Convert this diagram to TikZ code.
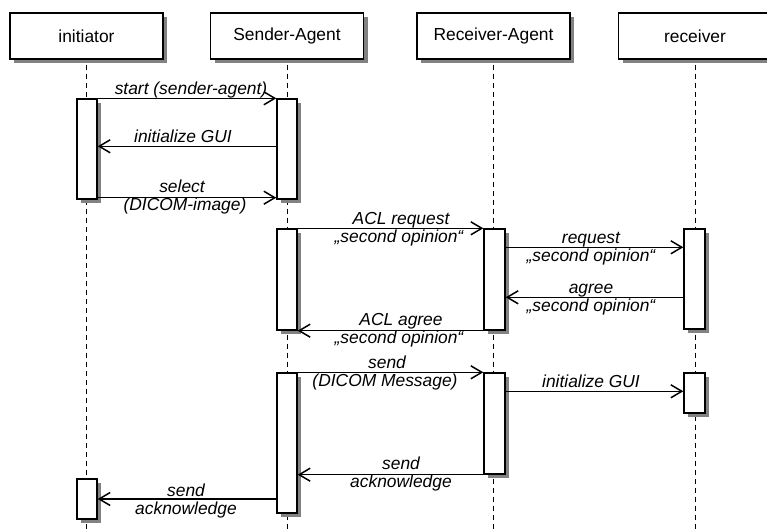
\documentclass[tikz,border=0pt]{standalone}
\usepackage{fontspec}
\setmainfont{Liberation Sans}
\usetikzlibrary{arrows.meta,shadows}
\definecolor{shadowgray}{RGB}{130,130,130}
\begin{document}
\begin{tikzpicture}[x=1pt,y=-1pt,
  every node/.style={font=\fontsize{17.4}{20}\selectfont},
  shad/.style={general shadow={fill=shadowgray, shadow xshift=4pt, shadow yshift=-4pt}},
  head/.style={draw, line width=1.4pt, fill=white, minimum width=153pt, minimum height=46pt, inner sep=0pt, shad},
  act/.style={draw, line width=1.4pt, fill=white, minimum width=20pt, inner sep=0pt, shad},
  life/.style={line width=1pt, dash pattern=on 5pt off 4pt},
  msg/.style={line width=1.5pt, -{Straight Barb[length=11pt,width=13pt,line width=1.5pt]}},
  lbl/.style={font=\fontsize{17.4}{20}\selectfont\itshape, inner sep=1pt, text height=12.5pt, text depth=3.5pt},
]
\useasboundingbox (0,0) rectangle (767,529);
\clip (0,0) rectangle (767,529);

% headers
\node[head] (hi) at (86.5,36) {initiator};
\node[head] (hs) at (287,36) {Sender-Agent};
\node[head] (hr) at (493.5,36) {Receiver-Agent};
\node[head] (hv) at (695,36) {receiver};

% lifelines
\coordinate (ei) at (87,529);
\coordinate (es) at (287,529);
\coordinate (er) at (494.5,529);
\coordinate (ev) at (695,529);
\draw[life] ([yshift=-5pt]hi.south) -- (hi.south |- ei);
\draw[life] ([yshift=-5pt]hs.south) -- (hs.south |- es);
\draw[life] ([yshift=-5pt]hr.south) -- (hr.south |- er);
\draw[life] ([yshift=-5pt]hv.south) -- (hv.south |- ev);

% activation boxes
\node[act, minimum height=100pt] (i1) at (87,149) {};
\node[act, minimum height=100pt] (s1) at (287,149) {};
\node[act, minimum height=101pt] (s2) at (287,279.5) {};
\node[act, minimum height=101pt, minimum width=21pt] (ra1) at (494.5,279.5) {};
\node[act, minimum height=100pt, minimum width=21pt] (r1) at (694.5,279) {};
\node[act, minimum height=140pt] (s3) at (287,443) {};
\node[act, minimum height=101pt, minimum width=21pt] (ra2) at (494.5,423.5) {};
\node[act, minimum height=40pt, minimum width=21pt] (r2) at (694.5,393) {};
\node[act, minimum height=40pt] (i2) at (87,499) {};

% messages
\draw[msg] (i1.north) -- (s1.north west);
\draw[msg] ([yshift=-48pt]s1.north west) -- ([yshift=-48pt]i1.north east);
\draw[msg] ([yshift=2pt]i1.south east) -- ([yshift=2pt]s1.south west);
\draw[msg] (s2.north east) -- (ra1.north west);
\draw[msg] ([yshift=-19pt]ra1.north east) -- ([yshift=-19pt]r1.north west);
\draw[msg] ([yshift=-69pt]r1.north west) -- ([yshift=-69pt]ra1.north east);
\draw[msg] (ra1.south west) -- (s2.south east);
\draw[msg] (s3.north east) -- (ra2.north west);
\draw[msg] ([yshift=-19pt]ra2.north east) -- ([yshift=-19pt]r2.north west);
\draw[msg] (ra2.south west) -- (ra2.south west -| s3.east);
\draw[msg] (s3.west |- i2.east) -- (i2.east);

% labels
\node[lbl, anchor=south] (l1) at (191,99) {start (sender-agent)};
\node[lbl, anchor=south] (l2) at (183,147) {initialize GUI};
\node[lbl, anchor=south] (l3a) at (182,197) {select};
\node[lbl, anchor=north] (l3b) at (185,197) {(DICOM-image)};
\node[lbl, anchor=south] (l4a) at (401,229) {ACL request};
\node[lbl, anchor=north] (l4b) at (399,229) {„second opinion“};
\node[lbl, anchor=south] (l5a) at (591,248) {request};
\node[lbl, anchor=north] (l5b) at (591,248) {„second opinion“};
\node[lbl, anchor=south] (l6a) at (591,298) {agree};
\node[lbl, anchor=north] (l6b) at (591,298) {„second opinion“};
\node[lbl, anchor=south] (l7a) at (401,330) {ACL agree};
\node[lbl, anchor=north] (l7b) at (399,330) {„second opinion“};
\node[lbl, anchor=south] (l8a) at (387,373) {send};
\node[lbl, anchor=north] (l8b) at (385,373) {(DICOM Message)};
\node[lbl, anchor=south] (l9) at (591,392) {initialize GUI};
\node[lbl, anchor=south] (l10a) at (401,474) {send};
\node[lbl, anchor=north] (l10b) at (401,474) {acknowledge};
\node[lbl, anchor=south] (l11a) at (186,501) {send};
\node[lbl, anchor=north] (l11b) at (186,501) {acknowledge};
\end{tikzpicture}
\end{document}
